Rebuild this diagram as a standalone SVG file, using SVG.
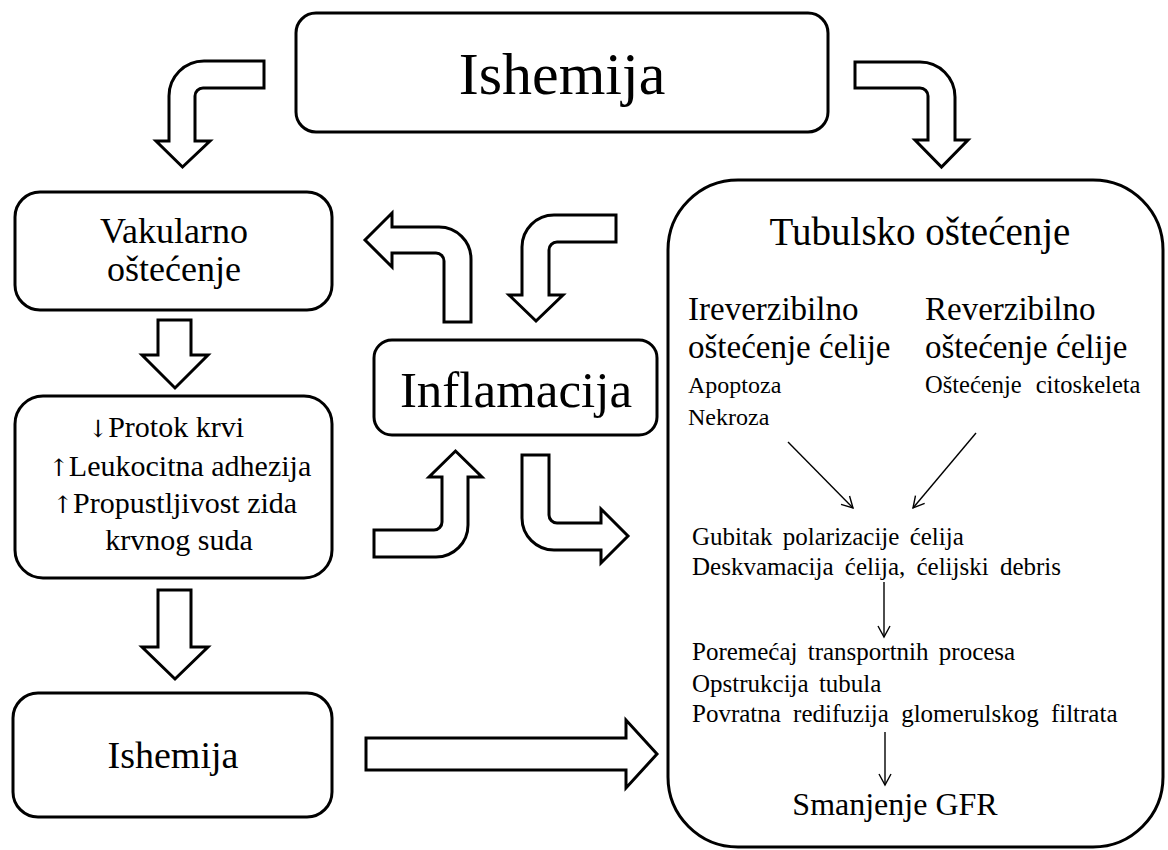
<svg xmlns="http://www.w3.org/2000/svg" width="1168" height="850" viewBox="0 0 1168 850">
<defs>
<style>
.box{fill:#fff;stroke:#000;stroke-width:3}
.blk{fill:#fff;stroke:#000;stroke-width:3;stroke-linejoin:miter}
.ln{fill:none;stroke:#000;stroke-width:1.4}
text{font-family:"Liberation Serif","Times New Roman",serif;fill:#000}
.c{text-anchor:middle}
.ar{font-family:"DejaVu Serif","Liberation Serif",serif}
</style>
<marker id="v" markerWidth="14" markerHeight="14" refX="12" refY="7" orient="auto" markerUnits="userSpaceOnUse">
<path d="M1,1 L12,7 L1,13" fill="none" stroke="#000" stroke-width="1.4"/>
</marker>
</defs>
<rect width="1168" height="850" fill="#fff"/>

<g id="top-ishemija">
<rect class="box" x="296" y="13" width="532" height="119" rx="20"/>
<text class="c" x="562" y="94" font-size="60">Ishemija</text>
</g>

<g id="vaskularno">
<rect class="box" x="15" y="192" width="317" height="118" rx="25"/>
<text class="c" x="174" y="243" font-size="36">Vakularno</text>
<text class="c" x="174" y="281" font-size="36">oštećenje</text>
</g>

<g id="efekti">
<rect class="box" x="15" y="396" width="317" height="182" rx="28"/>
<text class="c" font-size="30"><tspan x="166" y="437"><tspan class="ar" font-size="24">↓</tspan>Protok krvi</tspan><tspan x="180" y="476"><tspan class="ar" font-size="24">↑</tspan>Leukocitna adhezija</tspan><tspan x="175" y="513"><tspan class="ar" font-size="24">↑</tspan>Propustljivost zida</tspan><tspan x="179" y="550">krvnog suda</tspan></text>
</g>

<g id="bottom-ishemija">
<rect class="box" x="13" y="693" width="319" height="124" rx="25"/>
<text class="c" x="173" y="768" font-size="38">Ishemija</text>
</g>

<g id="inflamacija">
<rect class="box" x="374" y="340" width="283" height="95" rx="18"/>
<text class="c" x="516" y="407" font-size="51">Inflamacija</text>
</g>

<g id="tubulsko">
<rect class="box" x="668" y="180" width="495" height="667" rx="70"/>
<text class="c" x="920" y="245" font-size="39">Tubulsko oštećenje</text>
<text x="688" y="320" font-size="33">Ireverzibilno</text>
<text x="688" y="358" font-size="33">oštećenje ćelije</text>
<text x="688" y="393" font-size="24">Apoptoza</text>
<text x="688" y="425" font-size="24">Nekroza</text>
<text x="925" y="320" font-size="33">Reverzibilno</text>
<text x="925" y="358" font-size="33">oštećenje ćelije</text>
<text x="925" y="393" font-size="24.5" word-spacing="8">Oštećenje citoskeleta</text>
<text x="692" y="545" font-size="25" word-spacing="4">Gubitak polarizacije ćelija</text>
<text x="692" y="575" font-size="25" word-spacing="5">Deskvamacija ćelija, ćelijski debris</text>
<text x="692" y="660" font-size="25" word-spacing="4">Poremećaj transportnih procesa</text>
<text x="692" y="692" font-size="25" word-spacing="4">Opstrukcija tubula</text>
<text x="692" y="722" font-size="25" word-spacing="6">Povratna redifuzija glomerulskog filtrata</text>
<text class="c" x="895" y="815" font-size="32">Smanjenje GFR</text>
</g>

<g id="connectors">
<path class="blk" d="M264,61 H204 A35,35 0 0 0 169,96 V141 H156 L182.5,167 L210,141 H195 V96 A8,8 0 0 1 203,88 H264 Z"/>
<path class="blk" d="M855,62 H920 A35,35 0 0 1 955,97 V140 H968 L941.5,167 L915,140 H928 V96 A8,8 0 0 0 920,88 H855 Z"/>
<path class="blk" d="M444,322 H471 V259 A32,32 0 0 0 439,227 H392 V213 L365,240 L392,267 V253 H436 A8,8 0 0 1 444,261 Z"/>
<path class="blk" d="M616,215 H554 A32,32 0 0 0 522,247 V295 H509 L536,321 L563,295 H549 V250 A8,8 0 0 1 557,242 H616 Z"/>
<path class="blk" d="M374,530 H434 A8,8 0 0 0 442,522 V477 H429 L455.5,451 L482,477 H468 V525 A32,32 0 0 1 436,557 H374 Z"/>
<path class="blk" d="M522,455 H549 V515 A8,8 0 0 0 557,523 H601 V509 L628,536 L601,563 V550 H554 A32,32 0 0 1 522,518 Z"/>
<path class="blk" d="M158,320 H191 V355 H208 L175,388 L142,355 H158 Z"/>
<path class="blk" d="M158,590 H191 V647 H208 L175,679 L142,647 H158 Z"/>
<path class="blk" d="M366,738 H626 V720 L657,754 L626,788 V770 H366 Z"/>
<line class="ln" x1="788" y1="442" x2="853" y2="508" marker-end="url(#v)"/>
<line class="ln" x1="976" y1="433" x2="913" y2="508" marker-end="url(#v)"/>
<line class="ln" x1="884" y1="582" x2="884" y2="637" marker-end="url(#v)"/>
<line class="ln" x1="885" y1="732" x2="885" y2="785" marker-end="url(#v)"/>
</g>
</svg>
